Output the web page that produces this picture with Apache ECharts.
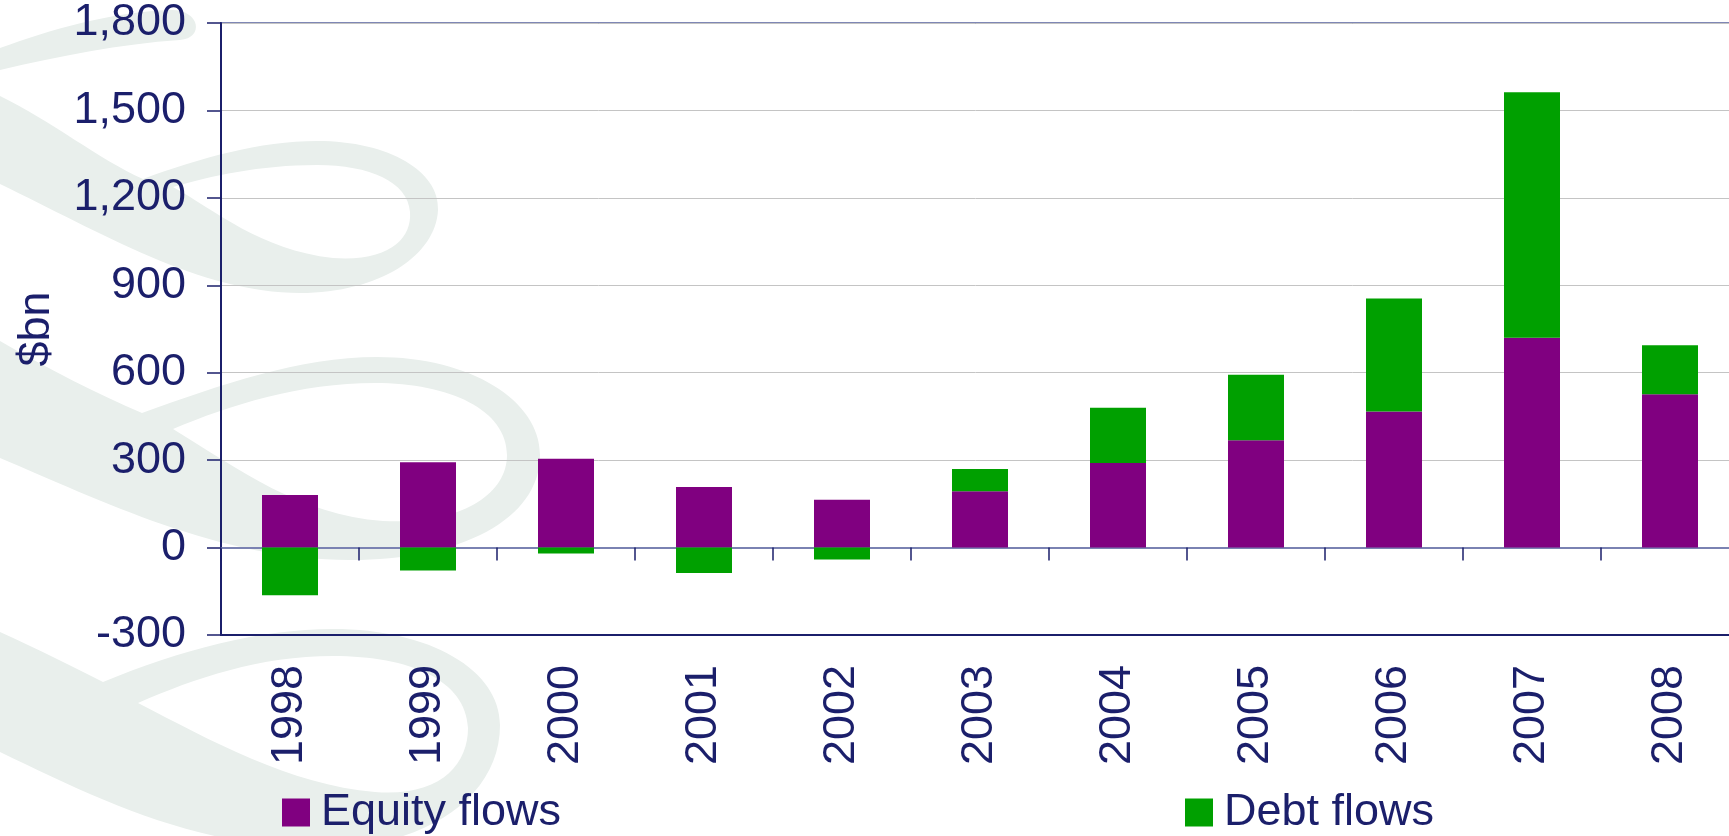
<!DOCTYPE html>
<html>
<head>
<meta charset="utf-8">
<style>
  html, body { margin: 0; padding: 0; background: #fff; }
  #chart { width: 1729px; height: 836px; }
</style>
<script src="https://cdn.jsdelivr.net/npm/echarts@6/dist/echarts.min.js"></script>
</head>
<body>
<div id="chart"></div>
<script>
const years = ['1998', '1999', '2000', '2001', '2002', '2003', '2004', '2005', '2006', '2007', '2008'];
const equityFlows = [180, 293, 305, 208, 164, 193, 290, 368, 467, 720, 526];
const debtFlows = [-164, -79, -20, -87, -41, 77, 190, 225, 388, 842, 168];
const yTicks = [-300, 0, 300, 600, 900, 1200, 1500, 1800];

const navy = '#1b1f6b';
const font = '"Liberation Sans", Arial, sans-serif';

// faint logo swirl behind the plot
const swirl =
  '<svg xmlns="http://www.w3.org/2000/svg" width="560" height="836" viewBox="0 0 560 836">' +
  '<g fill="#e9efec" fill-rule="evenodd">' +
  '<path d="M0 48 C50 30 110 12 170 10 C200 9 205 38 180 40 C120 44 60 56 0 70 Z"/>' +
  '<path d="M0 96 C50 120 100 160 143 179 C200 158 260 141 317 141 C390 141 440 172 438 210 C436 255 380 293 300 293 C200 293 100 232 0 184 Z' +
  ' M173 187 C215 210 260 250 333 258 C390 262 412 238 410 212 C408 182 370 165 317 165 C260 165 210 176 173 187 Z"/>' +
  '<path d="M0 341 C50 370 100 395 142 413 C220 385 300 357 377 357 C470 357 540 400 540 455 C540 520 460 560 350 560 C220 560 100 500 0 458 Z' +
  ' M173 429 C240 470 300 515 383 521 C460 525 507 495 507 455 C507 410 450 383 375 383 C300 383 230 405 173 429 Z"/>' +
  '<path d="M0 632 C40 650 75 668 103 682 C180 650 260 629 333 629 C430 629 500 670 500 725 C500 795 430 845 330 848 C200 850 100 800 0 752 Z' +
  ' M138 703 C210 740 290 785 375 792 C440 797 468 765 468 728 C466 680 410 656 333 656 C260 656 195 678 138 703 Z"/>' +
  '</g></svg>';

const chart = echarts.init(document.getElementById('chart'));

const legendBase = {
  top: 790,
  padding: 0,
  icon: 'rect',
  itemWidth: 28,
  itemHeight: 28,
  textStyle: { fontSize: 45, color: navy, fontFamily: font, padding: [0, 0, 0, 6] }
};

chart.setOption({
  animation: false,
  backgroundColor: '#fff',
  graphic: [{
    type: 'image',
    z: -10,
    left: 0,
    top: 0,
    style: {
      image: 'data:image/svg+xml;charset=utf-8,' + encodeURIComponent(swirl),
      width: 560,
      height: 836
    }
  }],
  grid: {
    left: 221,
    right: -10,
    top: 23,
    bottom: 201,
    outerBoundsMode: 'none',
    show: true,
    borderColor: '#7f87b5',
    borderWidth: 2
  },
  legend: [
    Object.assign({}, legendBase, { left: 282, data: ['Equity flows'] }),
    Object.assign({}, legendBase, { left: 1185, data: ['Debt flows'] })
  ],
  xAxis: [
    {
      type: 'category',
      data: years,
      position: 'bottom',
      axisLine: { onZero: false, lineStyle: { color: navy, width: 2 } },
      axisTick: { show: false },
      axisLabel: { rotate: 90, margin: 30, fontSize: 45, color: navy, fontFamily: font, interval: 0 },
      splitLine: { show: false }
    },
    {
      type: 'category',
      data: years,
      position: 'top',
      axisLine: { onZero: true, lineStyle: { color: '#7a82b2', width: 2 } },
      axisTick: { show: true, inside: true, length: 13, interval: 0, lineStyle: { color: navy, width: 1.5 } },
      axisLabel: { show: false },
      splitLine: { show: false }
    }
  ],
  yAxis: {
    type: 'value',
    min: yTicks[0],
    max: yTicks[yTicks.length - 1],
    interval: yTicks[1] - yTicks[0],
    name: '$bn',
    nameLocation: 'middle',
    nameRotate: 90,
    nameGap: 162,
    nameTextStyle: { fontSize: 45, color: navy, fontFamily: font },
    axisLine: { show: true, lineStyle: { color: navy, width: 2 } },
    axisTick: { show: true, length: 14, lineStyle: { color: navy, width: 1.5 } },
    axisLabel: {
      margin: 35,
      fontSize: 45,
      color: navy,
      fontFamily: font,
      formatter: v => v.toLocaleString('en-US')
    },
    splitLine: { lineStyle: { color: '#c4c4c4', width: 1 } }
  },
  series: [
    {
      name: 'Equity flows',
      type: 'bar',
      stack: 'flows',
      xAxisIndex: 0,
      barWidth: 56,
      itemStyle: { color: '#800080' },
      data: equityFlows
    },
    {
      name: 'Debt flows',
      type: 'bar',
      stack: 'flows',
      xAxisIndex: 0,
      barWidth: 56,
      itemStyle: { color: '#00a000' },
      data: debtFlows
    }
  ]
});
</script>
</body>
</html>
